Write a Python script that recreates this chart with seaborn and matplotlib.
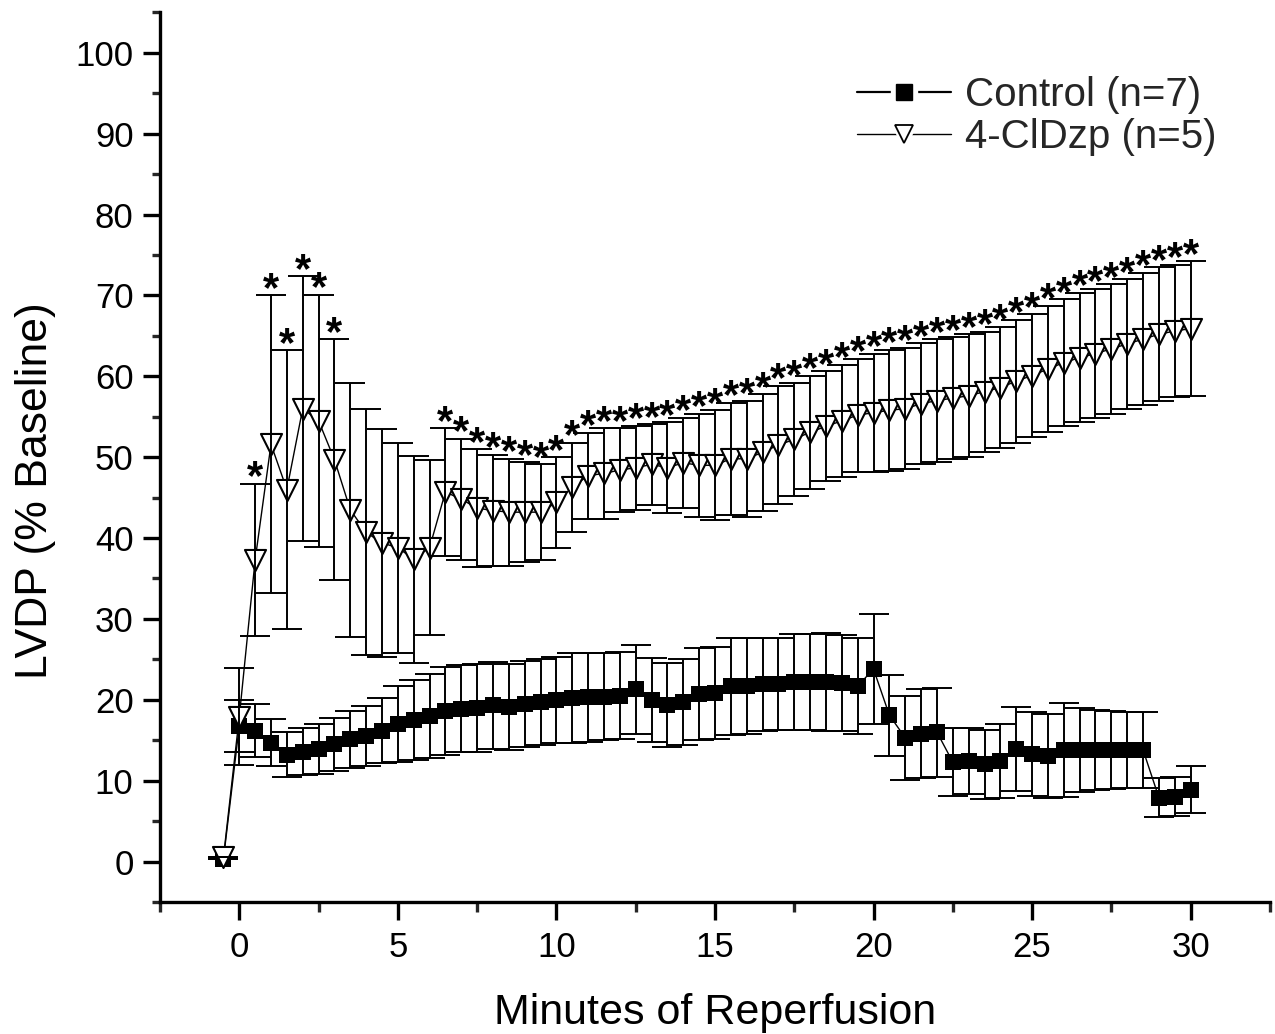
import numpy as np
import pandas as pd
import matplotlib
matplotlib.use("Agg")
import matplotlib.pyplot as plt
from matplotlib.lines import Line2D
from matplotlib.legend_handler import HandlerTuple
from matplotlib.ticker import MultipleLocator
import seaborn as sns

# Sampling times (minutes of reperfusion)
minutes = [-0.5, 0, 0.5, 1, 1.5, 2, 2.5, 3, 3.5, 4, 4.5, 5, 5.5, 6, 6.5, 7, 7.5, 8,
           8.5, 9, 9.5, 10, 10.5, 11, 11.5, 12, 12.5, 13, 13.5, 14, 14.5, 15, 15.5,
           16, 16.5, 17, 17.5, 18, 18.5, 19, 19.5, 20, 20.5, 21, 21.5, 22, 22.5, 23,
           23.5, 24, 24.5, 25, 25.5, 26, 26.5, 27, 27.5, 28, 28.5, 29, 29.5, 30]

# Control group (n=7): mean LVDP and error
control_mean = [0.3, 16.8, 16.2, 14.7, 13.2, 13.6, 13.9, 14.5, 15.1, 15.5, 16.2, 17.0,
                17.5, 18.0, 18.6, 18.9, 19.0, 19.3, 19.1, 19.5, 19.7, 20.0, 20.2, 20.3,
                20.4, 20.5, 21.3, 20.0, 19.4, 19.7, 20.7, 20.8, 21.7, 21.7, 21.9, 22.0,
                22.2, 22.2, 22.2, 22.1, 21.7, 23.8, 18.1, 15.3, 15.8, 16.0, 12.3, 12.4,
                12.0, 12.4, 13.9, 13.3, 13.1, 13.8, 13.8, 13.8, 13.8, 13.8, 13.8, 7.9,
                8.0, 8.9]
control_err = [0.0, 3.2, 3.3, 2.9, 2.8, 2.9, 3.1, 3.3, 3.5, 3.7, 4.0, 4.7, 5.0, 5.2,
               5.4, 5.4, 5.4, 5.4, 5.3, 5.3, 5.3, 5.3, 5.6, 5.5, 5.4, 5.4, 5.5, 5.2,
               5.2, 5.3, 5.7, 5.7, 6.0, 5.9, 5.8, 5.7, 5.9, 5.9, 6.0, 5.9, 5.9, 6.8,
               5.0, 5.2, 5.5, 5.5, 4.2, 4.1, 4.3, 4.6, 5.2, 5.2, 5.2, 5.8, 5.2, 4.9,
               4.8, 4.7, 4.7, 2.4, 2.4, 2.9]

# 4-ClDzp group (n=5): mean LVDP and error
cldzp_mean = [0.5, 17.9, 37.3, 51.6, 46.0, 56.0, 54.5, 49.7, 43.5, 40.7, 39.4, 38.8,
              37.4, 38.8, 45.7, 44.8, 43.7, 43.4, 43.2, 43.2, 43.2, 44.4, 46.3, 47.7,
              48.0, 48.4, 48.7, 49.1, 48.7, 49.3, 49.0, 49.0, 49.8, 49.8, 50.6, 51.5,
              52.2, 53.1, 53.8, 54.5, 55.2, 55.5, 55.8, 56.0, 56.6, 57.0, 57.3, 57.6,
              58.1, 58.6, 59.4, 60.1, 60.9, 61.7, 62.3, 62.8, 63.4, 64.0, 64.6, 65.2,
              65.6, 65.9]
cldzp_err = [0.0, 6.0, 9.4, 18.4, 17.2, 16.4, 15.6, 14.9, 15.7, 15.2, 14.1, 13.0,
             12.8, 10.8, 7.9, 7.5, 7.3, 6.9, 6.6, 6.2, 5.9, 5.6, 5.5, 5.3, 5.6, 5.2,
             5.2, 5.0, 5.6, 5.6, 6.4, 6.8, 6.9, 7.2, 7.2, 7.3, 7.0, 7.0, 6.8, 6.9,
             7.0, 7.3, 7.5, 7.5, 7.5, 7.6, 7.5, 7.6, 7.4, 7.5, 7.6, 7.6, 7.8, 7.8,
             8.0, 8.0, 8.0, 8.0, 8.2, 8.3, 8.2, 8.3]
# 1 = significantly different from control (marked with *)
cldzp_sig = [0, 0, 1, 1, 1, 1, 1, 1, 0, 0, 0, 0, 0, 0, 1, 1, 1, 1, 1, 1, 1, 1, 1, 1,
             1, 1, 1, 1, 1, 1, 1, 1, 1, 1, 1, 1, 1, 1, 1, 1, 1, 1, 1, 1, 1, 1, 1, 1,
             1, 1, 1, 1, 1, 1, 1, 1, 1, 1, 1, 1, 1, 1]

x_ticks = [0, 5, 10, 15, 20, 25, 30]
y_ticks = [0, 10, 20, 30, 40, 50, 60, 70, 80, 90, 100]

control = pd.DataFrame({"t": minutes, "m": control_mean, "e": control_err})
cldzp = pd.DataFrame({"t": minutes, "m": cldzp_mean, "e": cldzp_err, "sig": cldzp_sig})

sns.set_theme(style="ticks")
plt.rcParams["font.family"] = ["Liberation Sans", "DejaVu Sans"]

fig = plt.figure(figsize=(12.75, 10.34), dpi=100)
ax = fig.add_axes([0.1255, 0.1277, 0.8705, 0.8603])

# Control series
ax.errorbar(control["t"], control["m"], yerr=control["e"], fmt="none",
            ecolor="black", elinewidth=1.4, capsize=11, capthick=1.4, zorder=2)
sns.lineplot(data=control, x="t", y="m", color="black", lw=1.0, sort=False,
             estimator=None, ax=ax, zorder=2.5)
sns.scatterplot(data=control, x="t", y="m", marker="s", s=140, color="black",
                edgecolor="black", linewidth=0, ax=ax, zorder=3)

# 4-ClDzp series
sns.lineplot(data=cldzp, x="t", y="m", color="black", lw=1.0, sort=False,
             estimator=None, ax=ax, zorder=3.5)
sns.scatterplot(data=cldzp, x="t", y="m", marker="v", s=230, color="white",
                edgecolor="black", linewidth=1.5, ax=ax, zorder=4)
ax.errorbar(cldzp["t"], cldzp["m"], yerr=cldzp["e"], fmt="none",
            ecolor="black", elinewidth=1.4, capsize=11, capthick=1.4, zorder=4.5)

# Significance markers above the upper error bars
for t, m, e, s in zip(cldzp["t"], cldzp["m"], cldzp["e"], cldzp["sig"]):
    if s:
        ax.annotate("*", (t, m + e), xytext=(0, -4), textcoords="offset points",
                    ha="center", va="baseline", fontsize=30, fontweight="bold",
                    color="black", zorder=6)

ax.set_xlim(-2.5, 32.5)
ax.set_ylim(-5, 105)
ax.set_xticks(x_ticks)
ax.set_yticks(y_ticks)
ax.xaxis.set_minor_locator(MultipleLocator(2.5))
ax.yaxis.set_minor_locator(MultipleLocator(5))

for side in ("top", "right"):
    ax.spines[side].set_visible(False)
for side in ("left", "bottom"):
    ax.spines[side].set_linewidth(2.4)
    ax.spines[side].set_color("black")

ax.tick_params(axis="x", which="major", length=13, width=2.4, direction="out",
               labelsize=25, pad=8, colors="black")
ax.tick_params(axis="x", which="minor", length=7, width=2.4, direction="out")
ax.tick_params(axis="y", which="major", length=12, width=2.4, direction="out",
               labelsize=25, pad=7, colors="black")
ax.tick_params(axis="y", which="minor", length=6, width=2.4, direction="out")

ax.set_xlabel("Minutes of Reperfusion", fontsize=31, color="black")
ax.set_ylabel("LVDP (% Baseline)", fontsize=32, color="black")
ax.xaxis.label.set_va("center")
ax.yaxis.label.set_va("center")
ax.xaxis.set_label_coords(0.5, -0.125)
ax.yaxis.set_label_coords(-0.112, 0.462)

# Legend keys: line, white gap around the symbol, then the symbol itself
ctrl_line = Line2D([], [], color="black", lw=1.6)
ctrl_gap = Line2D([], [], ls="none", marker="s", markersize=19,
                  markerfacecolor="white", markeredgecolor="white")
ctrl_mark = Line2D([], [], ls="none", marker="s", markersize=12,
                   markerfacecolor="black", markeredgecolor="black")
dzp_line = Line2D([], [], color="black", lw=1.0)
dzp_gap = Line2D([], [], ls="none", marker="v", markersize=21,
                 markerfacecolor="white", markeredgecolor="white")
dzp_mark = Line2D([], [], ls="none", marker="v", markersize=13,
                  markerfacecolor="white", markeredgecolor="black",
                  markeredgewidth=1.3)
ax.legend([(ctrl_line, ctrl_gap, ctrl_mark), (dzp_line, dzp_gap, dzp_mark)],
          ["Control (n=7)", "4-ClDzp (n=5)"], loc="center left",
          bbox_to_anchor=(0.656, 0.888), bbox_transform=fig.transFigure,
          frameon=False, fontsize=29, handlelength=2.35, handletextpad=0.35,
          labelspacing=0.1, borderpad=0, numpoints=1,
          handler_map={tuple: HandlerTuple(ndivide=1)})

fig.savefig("out.png", dpi=100)
